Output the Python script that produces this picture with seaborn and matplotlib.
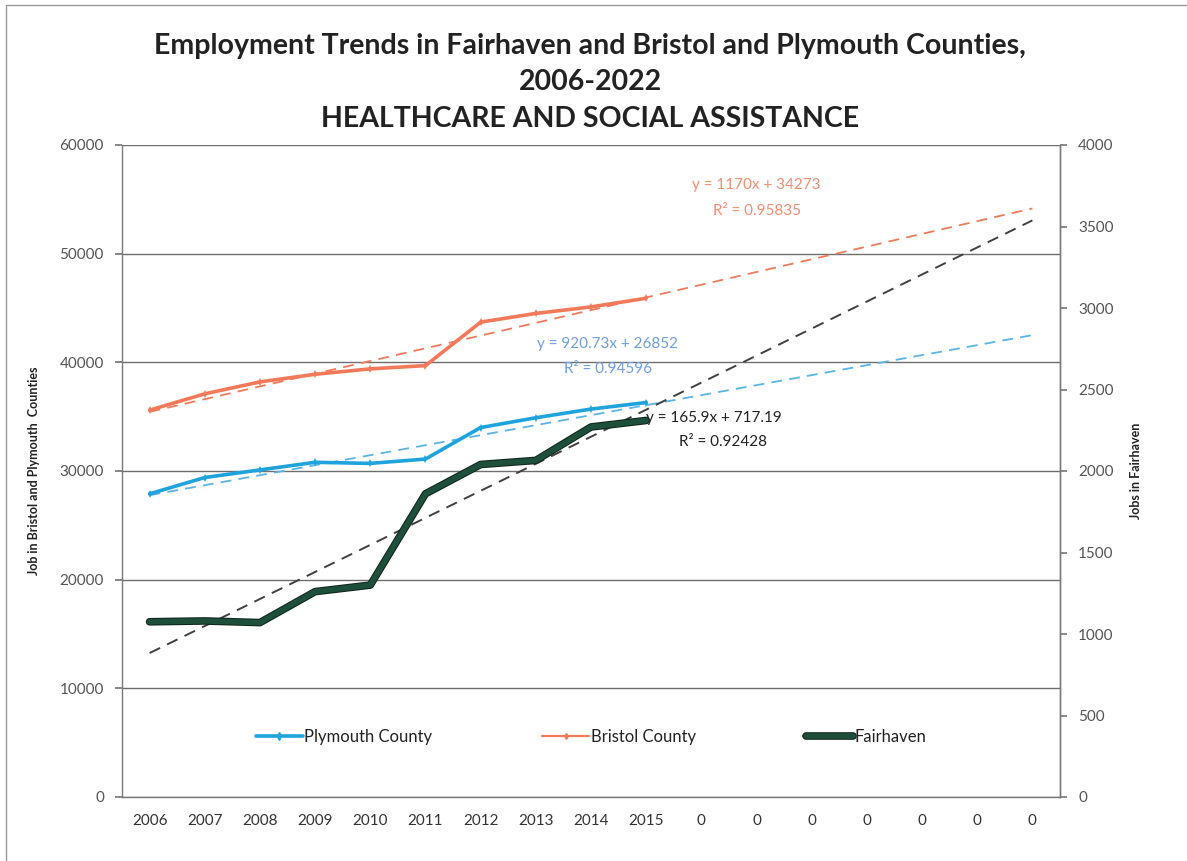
import numpy as np
import pandas as pd
import matplotlib
matplotlib.use("Agg")
import matplotlib.pyplot as plt
import matplotlib.patheffects as pe
from matplotlib.lines import Line2D
import seaborn as sns

# ---------------- data ----------------
years = ["2006", "2007", "2008", "2009", "2010", "2011", "2012", "2013", "2014", "2015"]
extra_labels = ["0", "0", "0", "0", "0", "0", "0"]
plymouth = [27900, 29400, 30100, 30800, 30700, 31100, 34000, 34900, 35700, 36300]
bristol = [35600, 37100, 38200, 38900, 39400, 39700, 43700, 44500, 45100, 45900]
fairhaven = [1075, 1080, 1070, 1260, 1300, 1860, 2040, 2065, 2270, 2310]

# trendline equations as printed on the chart (x = category index starting at 1)
bristol_trend = (1170.0, 34273.0)
plymouth_trend = (920.73, 26852.0)
fairhaven_trend = (165.9, 717.19)

left_ticks = [0, 10000, 20000, 30000, 40000, 50000, 60000]
right_ticks = [0, 500, 1000, 1500, 2000, 2500, 3000, 3500, 4000]

title_lines = ["Employment Trends in Fairhaven and Bristol and Plymouth Counties,",
               "2006-2022",
               "HEALTHCARE AND SOCIAL ASSISTANCE"]

# ---------------- style ----------------
sns.set_theme(style="white")
plt.rcParams["font.family"] = ["Lato", "DejaVu Sans"]

c_ply = "#1fa3dc"
c_bri = "#f27a5a"
c_fai = "#1d4f3a"
fai_fx = [pe.Stroke(linewidth=5.5, foreground="#10261b"), pe.Normal()]

all_labels = years + extra_labels
n = len(all_labels)
x_data = np.arange(1, len(years) + 1)
x_all = np.arange(1, n + 1)

df = pd.DataFrame({"x": x_data, "Plymouth County": plymouth,
                   "Bristol County": bristol, "Fairhaven": fairhaven})

fig = plt.figure(figsize=(11.87, 8.61), dpi=100)
ax = fig.add_axes([122 / 1187, 1 - 797 / 861, (1060 - 122) / 1187, (797 - 145) / 861])
ax2 = ax.twinx()

# trendlines
tr = pd.DataFrame({"x": x_all})
tr["bri"] = bristol_trend[0] * tr["x"] + bristol_trend[1]
tr["ply"] = plymouth_trend[0] * tr["x"] + plymouth_trend[1]
tr["fai"] = fairhaven_trend[0] * tr["x"] + fairhaven_trend[1]

sns.lineplot(data=tr, x="x", y="bri", ax=ax, color=c_bri, lw=1.3,
             linestyle=(0, (6, 4)), zorder=2)
sns.lineplot(data=tr, x="x", y="ply", ax=ax, color="#5ab4e6", lw=1.3,
             linestyle=(0, (6, 4)), zorder=2)

# data series (left axis)
sns.lineplot(data=df, x="x", y="Bristol County", ax=ax, color=c_bri, lw=2.6,
             marker="d", markersize=4, markeredgewidth=0, zorder=3)
sns.lineplot(data=df, x="x", y="Plymouth County", ax=ax, color=c_ply, lw=2.6,
             marker="d", markersize=4, markeredgewidth=0, zorder=3)

# right axis
sns.lineplot(data=tr, x="x", y="fai", ax=ax2, color="#404040", lw=1.4,
             linestyle=(0, (6, 4)), zorder=2)
sns.lineplot(data=df, x="x", y="Fairhaven", ax=ax2, color=c_fai, lw=4,
             zorder=3, path_effects=fai_fx)

# axes setup
ax.set_xlim(0.5, n + 0.5)
ax.set_ylim(0, 60000)
ax2.set_ylim(0, 4000)
ax.set_xticks(x_all)
ax.set_xticklabels(all_labels)
ax.set_xticks(np.arange(0.5, n + 1, 1.0), minor=True)
ax.set_yticks(left_ticks)
ax.set_yticklabels([str(v) for v in left_ticks])
ax2.set_yticks(right_ticks)
ax2.set_yticklabels([str(v) for v in right_ticks])

ax.grid(axis="y", color="#6e6e6e", lw=1.0)
ax.grid(axis="x", visible=False)
ax2.grid(False)
ax.set_axisbelow(True)

for a in (ax, ax2):
    for s in a.spines.values():
        s.set_color("#7a7a7a")
        s.set_linewidth(1.0)
    a.spines["top"].set_visible(False)
ax2.spines["left"].set_visible(False)
ax2.spines["bottom"].set_visible(False)

tick_col = "#555555"
ax.tick_params(axis="x", which="major", length=0, pad=12, labelsize=11, labelcolor="#333333")
ax.tick_params(axis="x", which="minor", length=5, direction="inout", color="#7a7a7a", width=1)
ax.tick_params(axis="y", length=5, direction="out", color="#7a7a7a", labelsize=11,
               labelcolor=tick_col, pad=8, left=True)
ax2.tick_params(axis="y", length=5, direction="out", color="#7a7a7a", labelsize=11,
                labelcolor=tick_col, pad=8, right=True)

ax.set_xlabel("")
ax.set_ylabel("Job in Bristol and Plymouth  Counties", fontsize=9, fontweight="bold",
              color="#222222", labelpad=14)
ax2.set_ylabel("Jobs in Fairhaven", fontsize=9, fontweight="bold", color="#222222",
               rotation=90, labelpad=12)

# trendline labels
ax.text(12.0, 56300, "y = 1170x + 34273", color=c_bri, fontsize=11, ha="center", va="center", alpha=0.85)
ax.text(12.0, 53900, "R² = 0.95835", color=c_bri, fontsize=11, ha="center", va="center", alpha=0.85)
ax.text(9.3, 41700, "y = 920.73x + 26852", color="#6f9fe0", fontsize=11, ha="center", va="center")
ax.text(9.3, 39400, "R² = 0.94596", color="#6f9fe0", fontsize=11, ha="center", va="center")
ax2.text(10.0, 2325, "y = 165.9x + 717.19", color="#222222", fontsize=11, ha="left", va="center")
ax2.text(10.6, 2180, "R² = 0.92428", color="#222222", fontsize=11, ha="left", va="center")

# legend
handles = [Line2D([], [], color=c_ply, lw=2.6, marker="d", markersize=4),
           Line2D([], [], color=c_bri, lw=1.6, marker="d", markersize=3),
           Line2D([], [], color=c_fai, lw=4, path_effects=fai_fx)]
ax.legend(handles, ["Plymouth County", "Bristol County", "Fairhaven"],
          loc="center", bbox_to_anchor=(0.5, 0.092), ncol=3, frameon=False,
          fontsize=12, handlelength=2.8, handletextpad=0.1, columnspacing=6.6,
          labelcolor="#222222")

# title
ys = [0.946, 0.905, 0.862]
for t, yy in zip(title_lines, ys):
    fig.text(0.497, yy, t, ha="center", va="center", fontsize=20.5, fontweight="bold", color="#222222")

# thin chart border (left and top)
fig.add_artist(Line2D([6 / 1187, 6 / 1187], [0, 1 - 5 / 861], color="#999999", lw=1,
                      transform=fig.transFigure))
fig.add_artist(Line2D([6 / 1187, 1], [1 - 5 / 861, 1 - 5 / 861], color="#999999", lw=1,
                      transform=fig.transFigure))

fig.savefig("out.png", dpi=100, facecolor="white")
